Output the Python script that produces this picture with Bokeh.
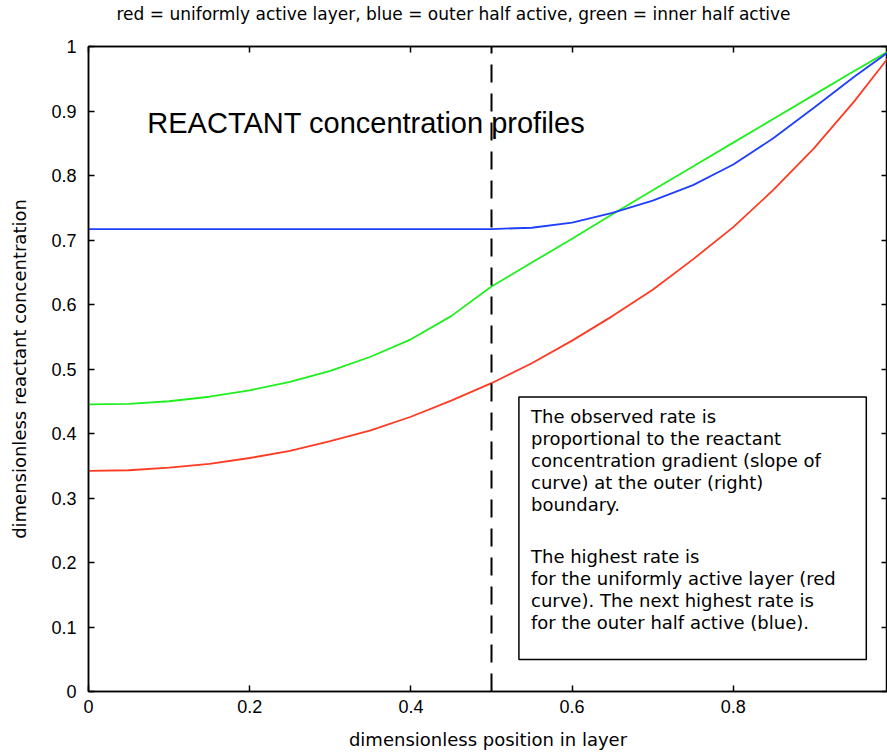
from bokeh.plotting import figure
from bokeh.models import (Range1d, LinearAxis, FixedTicker, CustomJSTickFormatter,
                          Label, BoxAnnotation, ColumnDataSource)
from bokeh.embed import file_html
from bokeh.resources import INLINE

# ---------------- data ----------------
x_pos = [0.00, 0.05, 0.10, 0.15, 0.20, 0.25, 0.30, 0.35, 0.40, 0.45, 0.50,
         0.55, 0.60, 0.65, 0.70, 0.75, 0.80, 0.85, 0.90, 0.95, 1.00]
red_uniform = [0.342, 0.343, 0.347, 0.353, 0.362, 0.373, 0.388, 0.405, 0.426, 0.451, 0.478,
               0.509, 0.544, 0.582, 0.623, 0.670, 0.720, 0.778, 0.842, 0.915, 0.995]
blue_outer = [0.717, 0.717, 0.717, 0.717, 0.717, 0.717, 0.717, 0.717, 0.717, 0.717, 0.717,
              0.719, 0.727, 0.742, 0.761, 0.785, 0.817, 0.858, 0.905, 0.953, 0.998]
green_inner = [0.445, 0.446, 0.450, 0.457, 0.467, 0.480, 0.497, 0.519, 0.546, 0.582, 0.628,
               0.665, 0.702, 0.740, 0.777, 0.814, 0.851, 0.888, 0.925, 0.962, 0.998]
divider_x = [0.5, 0.5]
divider_y = [0.0, 1.0]

x_ticks = [0, 0.2, 0.4, 0.6, 0.8, 1.0]
y_ticks = [0, 0.1, 0.2, 0.3, 0.4, 0.5, 0.6, 0.7, 0.8, 0.9, 1.0]

title_text = "red = uniformly active layer, blue = outer half active, green = inner half active"
x_label = "dimensionless position in layer"
y_label = "dimensionless reactant concentration"
inner_title = "REACTANT concentration profiles"
note_lines_1 = ["The observed rate is",
                "proportional to the reactant",
                "concentration gradient (slope of",
                "curve) at the outer (right)",
                "boundary."]
note_lines_2 = ["The highest rate is",
                "for the uniformly active layer (red",
                "curve). The next highest rate is",
                "for the outer half active (blue)."]

# ---------------- figure ----------------
FONT = "DejaVu Sans"
TICKFONT = "Liberation Sans"

p = figure(width=887, height=752, x_range=Range1d(0, 0.9913), y_range=Range1d(0, 1),
           output_backend="svg", toolbar_location=None,
           min_border_left=88, min_border_right=0, min_border_top=46, min_border_bottom=60)
# trailing empty line lifts the title text away from the frame
p.title.text = title_text + "\n"
p.title.align = "left"
p.title.offset = 28
p.title.text_font = FONT
p.title.text_font_size = "17px"
p.title.text_font_style = "normal"
p.title.text_color = "black"
p.title.text_line_height = 1.1
p.title.standoff = 2
p.grid.visible = False
p.outline_line_color = "black"
p.outline_line_width = 1.5
p.background_fill_color = "white"
p.border_fill_color = "white"

fmt = CustomJSTickFormatter(code="return String(Math.round(tick*10)/10);")
blank_fmt = CustomJSTickFormatter(code="return '';")

def style_axis(ax, labels=True):
    ax.axis_line_color = "black"
    ax.axis_line_width = 1.5
    ax.major_tick_in = 6
    ax.major_tick_out = 0
    ax.major_tick_line_color = "black"
    ax.major_tick_line_width = 1.5
    ax.minor_tick_line_color = None
    if labels:
        ax.formatter = fmt
        ax.major_label_text_font = TICKFONT
        ax.major_label_text_font_size = "18px"
        ax.major_label_text_color = "black"
    else:
        ax.formatter = blank_fmt
        ax.major_label_standoff = 0

style_axis(p.xaxis[0])
style_axis(p.yaxis[0])
p.xaxis[0].ticker = FixedTicker(ticks=x_ticks)
p.yaxis[0].ticker = FixedTicker(ticks=y_ticks)
p.xaxis[0].major_label_standoff = 8
p.yaxis[0].major_label_standoff = 12
p.xaxis[0].axis_label = x_label
p.yaxis[0].axis_label = y_label
for ax in (p.xaxis[0], p.yaxis[0]):
    ax.axis_label_text_font = FONT
    ax.axis_label_text_font_size = "18px"
    ax.axis_label_text_font_style = "normal"
    ax.axis_label_text_color = "black"
p.xaxis[0].axis_label_standoff = 13
p.yaxis[0].axis_label_standoff = 18

top_ax = LinearAxis(ticker=FixedTicker(ticks=x_ticks))
style_axis(top_ax, labels=False)
p.add_layout(top_ax, "above")
right_ax = LinearAxis(ticker=FixedTicker(ticks=y_ticks))
style_axis(right_ax, labels=False)
p.add_layout(right_ax, "right")

# ---------------- curves ----------------
src = ColumnDataSource(dict(x=x_pos, red=red_uniform, blue=blue_outer, green=green_inner))
p.line("x", "red", source=src, line_color="#ff3a22", line_width=1.8)
p.line("x", "green", source=src, line_color="#1fee1f", line_width=1.8)
p.line("x", "blue", source=src, line_color="#1f3fff", line_width=1.8)
p.line(divider_x, divider_y, line_color="black", line_width=2, line_dash="18 11")

# ---------------- annotations ----------------
p.add_layout(Label(x=0.073, y=0.882, text=inner_title, text_font="Liberation Sans",
                   text_font_size="29px", text_color="black", text_baseline="middle"))

box = BoxAnnotation(left=0.534, right=0.965, bottom=0.0495, top=0.4567,
                    fill_alpha=0, line_color="black", line_alpha=1.0, line_width=1.5)
p.add_layout(box)

line_step = 22.0 / 646.0
y0 = 0.4257
for i, t in enumerate(note_lines_1):
    p.add_layout(Label(x=0.549, y=y0 - i * line_step, text=t, text_font=FONT,
                       text_font_size="18px", text_color="black", text_baseline="middle"))
y1 = 0.2090
for i, t in enumerate(note_lines_2):
    p.add_layout(Label(x=0.549, y=y1 - i * line_step, text=t, text_font=FONT,
                       text_font_size="18px", text_color="black", text_baseline="middle"))

open("out.html", "w").write(file_html(p, INLINE))
